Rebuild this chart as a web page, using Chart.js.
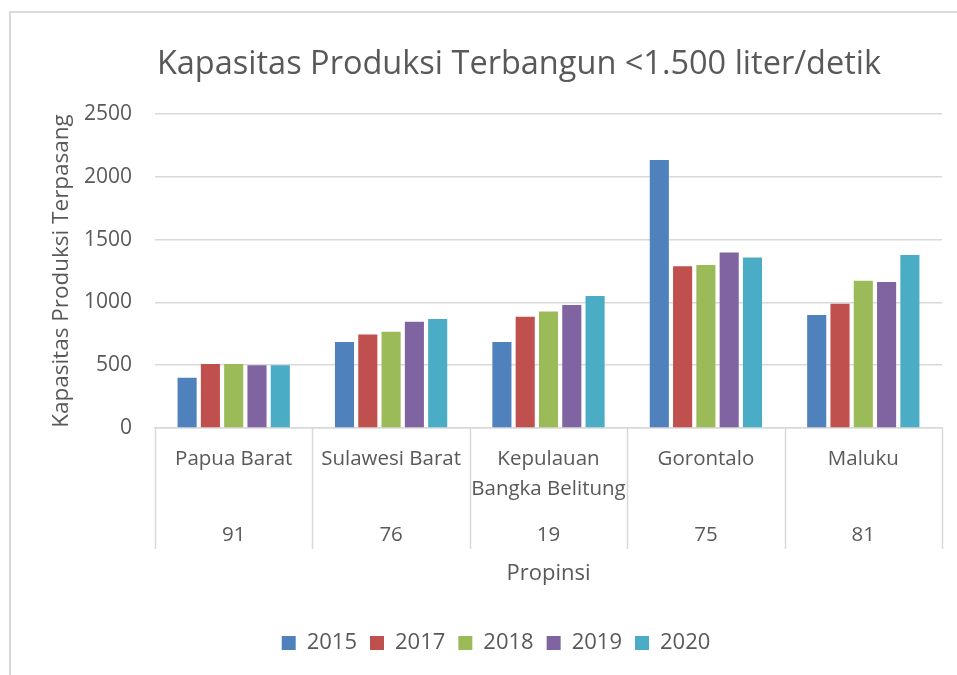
<!DOCTYPE html>
<html>
<head>
<meta charset="utf-8">
<script src="https://cdn.jsdelivr.net/npm/chart.js@4/dist/chart.umd.min.js"></script>
<style>
  html, body { margin: 0; padding: 0; background: #ffffff; }
  #wrap { position: relative; width: 957px; height: 675px; overflow: hidden; background: #fff; }
  #frame { position: absolute; left: 9px; top: 11px; width: 1000px; height: 700px;
           border-left: 2px solid #d9d9d9; border-top: 2px solid #d9d9d9; pointer-events: none; }
  canvas { position: absolute; left: 0; top: 0; }
</style>
</head>
<body>
<div id="wrap">
  <canvas id="c" width="957" height="675"></canvas>
  <div id="frame"></div>
</div>
<script>
// ---- data ----
const provinces = ["Papua Barat", "Sulawesi Barat", ["Kepulauan", "Bangka Belitung"], "Gorontalo", "Maluku"];
const codes = ["91", "76", "19", "75", "81"];
const years = ["2015", "2017", "2018", "2019", "2020"];
const v2015 = [400, 685, 685, 2134, 900];
const v2017 = [510, 745, 886, 1287, 990];
const v2018 = [510, 767, 928, 1298, 1173];
const v2019 = [500, 846, 979, 1398, 1162];
const v2020 = [500, 868, 1051, 1358, 1377];
const yTicks = [0, 500, 1000, 1500, 2000, 2500];

const colors = ["#4f81bd", "#c0504d", "#9bbb59", "#8064a2", "#4bacc6"];
const series = [v2015, v2017, v2018, v2019, v2020];
const textColor = "#595959";
const lineColor = "#d9d9d9";
const FONT = "'Open Sans', sans-serif";

const dividerPlugin = {
  id: 'dividers',
  afterLayout(chart) {
    // shift title and legend horizontally like the original layout
    if (chart.titleBlock) { chart.titleBlock.left += 43; chart.titleBlock.right += 43; }
    if (chart.legend) { chart.legend.left += 20; chart.legend.right += 20; }
  },
  afterDraw(chart) {
    const xs = chart.scales.x;
    const x2 = chart.scales.x2;
    const ctx = chart.ctx;
    const n = xs.getLabels().length;
    const top = chart.chartArea.bottom;
    const bottom = x2.top + 38;
    ctx.save();
    ctx.strokeStyle = lineColor;
    ctx.lineWidth = 1.5;
    for (let i = 0; i <= n; i++) {
      const px = Math.round(xs.left + i * (xs.width / n)) + 0.5;
      ctx.beginPath();
      ctx.moveTo(px, top);
      ctx.lineTo(px, bottom);
      ctx.stroke();
    }
    ctx.restore();
  }
};

new Chart(document.getElementById('c'), {
  type: 'bar',
  data: {
    labels: provinces,
    datasets: series.map((d, i) => ({
      label: years[i],
      data: d,
      backgroundColor: colors[i],
      borderWidth: 0,
      categoryPercentage: 0.74,
      barPercentage: 0.82
    }))
  },
  options: {
    responsive: false,
    animation: false,
    layout: { padding: { left: 10, right: 15, top: 0, bottom: 11 } },
    plugins: {
      title: {
        display: true,
        text: 'Kapasitas Produksi Terbangun <1.500 liter/detik',
        color: textColor,
        font: { family: FONT, size: 32.5, weight: 'normal', lineHeight: 1.2 },
        padding: { top: 45, bottom: 30 }
      },
      legend: {
        position: 'bottom',
        labels: {
          color: textColor,
          font: { family: FONT, size: 22 },
          boxWidth: 14,
          boxHeight: 14,
          padding: 13
        }
      },
      tooltip: { enabled: false }
    },
    scales: {
      y: {
        min: 0,
        max: 2500,
        afterBuildTicks(scale) { scale.ticks = yTicks.map(v => ({ value: v })); },
        afterFit(scale) { scale.width = 145; },
        ticks: {
          color: textColor, font: { family: FONT, size: 21 }, padding: 23,
          callback: (v) => String(v)
        },
        grid: { color: lineColor, lineWidth: 1.5, drawTicks: false },
        border: { display: false },
        title: {
          display: true,
          text: 'Kapasitas Produksi Terpasang',
          color: textColor,
          font: { family: FONT, size: 22.5, lineHeight: 1.2 },
          padding: { top: 38, bottom: 0 }
        }
      },
      x: {
        weight: 0,
        offset: true,
        afterFit(scale) { scale.height = 83; },
        ticks: { color: textColor, font: { family: FONT, size: 20.5, lineHeight: 1.42 }, padding: 17, maxRotation: 0, autoSkip: false },
        grid: { display: false, drawTicks: false },
        border: { display: true, color: lineColor, width: 1.5 }
      },
      x2: {
        type: 'category',
        position: 'bottom',
        weight: 1,
        offset: true,
        labels: codes,
        afterFit(scale) { scale.height = 108; },
        ticks: { color: textColor, font: { family: FONT, size: 20.5, lineHeight: 1.2 }, padding: 12, maxRotation: 0, autoSkip: false },
        grid: { display: false, drawTicks: false },
        border: { display: false },
        title: {
          display: true,
          text: 'Propinsi',
          color: textColor,
          font: { family: FONT, size: 22, lineHeight: 1.2 },
          padding: { top: 0, bottom: 32 }
        }
      }
    }
  },
  plugins: [dividerPlugin]
});
</script>
</body>
</html>
